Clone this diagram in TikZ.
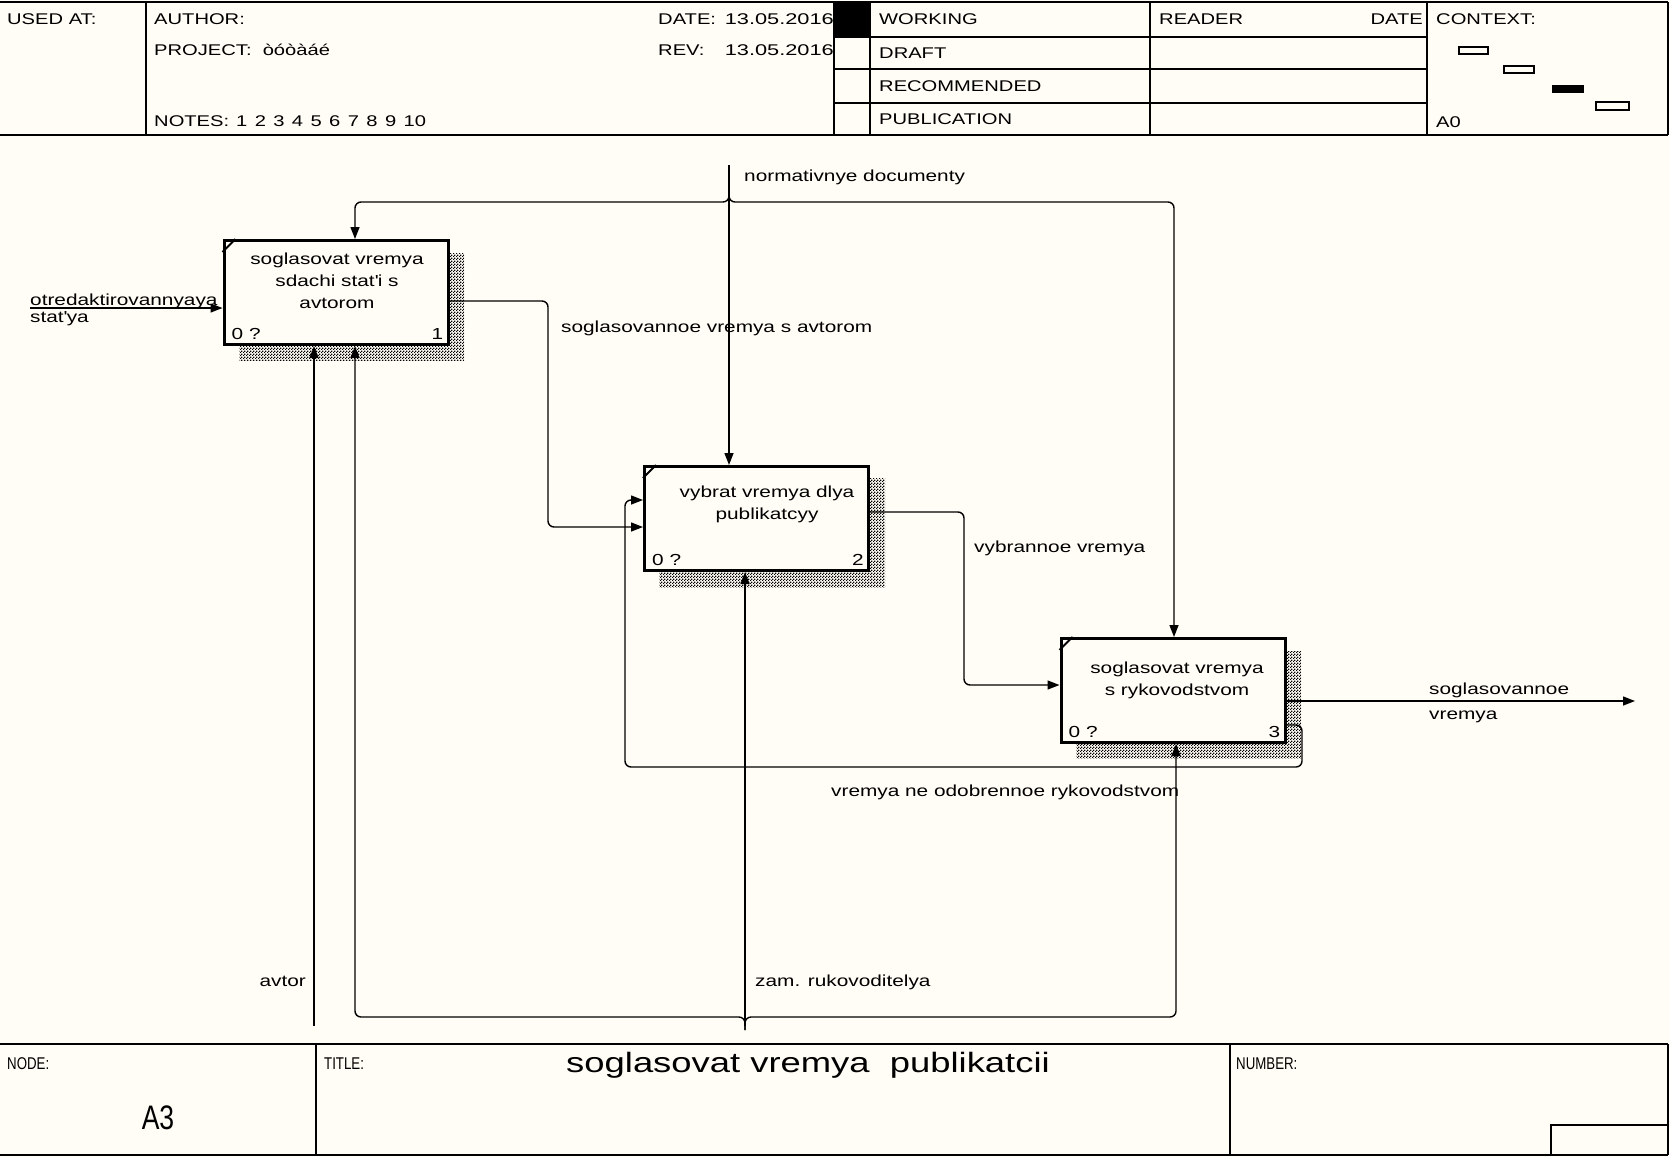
\documentclass[tikz,border=0pt]{standalone}
\usepackage{fontspec}
\setmainfont{Liberation Sans}[FakeStretch=1.3]
\newfontfamily\plainsans{Liberation Sans}
\newfontfamily\narrowsans{Liberation Sans}[FakeStretch=0.78]
\usetikzlibrary{arrows.meta,patterns,calc}
\definecolor{bg}{RGB}{255,253,245}
\pgfdeclarepatternformonly{checker}{\pgfqpoint{0pt}{0pt}}{\pgfqpoint{3pt}{3pt}}{\pgfqpoint{3pt}{3pt}}{%
 \pgfpathrectangle{\pgfqpoint{0pt}{0pt}}{\pgfqpoint{1.5pt}{1.5pt}}%
 \pgfpathrectangle{\pgfqpoint{1.5pt}{1.5pt}}{\pgfqpoint{1.5pt}{1.5pt}}%
 \pgfusepath{fill}}
\begin{document}
\begin{tikzpicture}[x=1pt,y=-1pt,
  outer/.style={line width=2.4pt},
  divider/.style={line width=1.5pt},
  hd/.style={font=\fontsize{15.5}{18}\selectfont, inner sep=0pt},
  lbl/.style={font=\fontsize{16}{22}\selectfont, inner sep=0pt},
  small/.style={font=\narrowsans\fontsize{17}{19}\selectfont, inner sep=0pt},
  actbox/.style={draw, line width=3pt, fill=bg, minimum width=224pt, minimum height=104pt, inner sep=0pt},
  shade/.style={pattern=checker, pattern color=black},
  conn/.style={line width=1.4pt, rounded corners=6pt},
  arr/.style={conn, -{Triangle[length=12pt,width=9pt]}},
]
\fill[bg] (0,0) rectangle (1670,1157);
\useasboundingbox (0,0) rectangle (1670,1157);

% ---------- header ----------
\draw[outer] (0,2) -- (1668,2);
\draw[outer] (0,135) -- (1668,135);
\draw[outer] (1668,2) -- (1668,135);
\foreach \x in {146,834,870,1150,1427} \draw[divider] (\x,2) -- (\x,135);
\foreach \y in {37,69,103} \draw[divider] (834,\y) -- (1427,\y);
\fill (834,2) rectangle (870,37);

\node[hd, anchor=base west] (usedat) at (7,24) {USED AT:};
\node[hd, anchor=base west] (author) at (154,24) {AUTHOR:};
\node[hd, anchor=base west] (project) at (154,55) {PROJECT:\ \ òóòàáé};
\node[hd, anchor=base west] (notes) at (154,126) {NOTES:};
\node[hd, anchor=base west] (notenums) at (236,126) {1\hspace{7.4pt}2\hspace{7.4pt}3\hspace{7.4pt}4\hspace{7.4pt}5\hspace{7.4pt}6\hspace{7.4pt}7\hspace{7.4pt}8\hspace{7.4pt}9\hspace{7.4pt}10};
\node[hd, anchor=base west] (date) at (658,24) {DATE:};
\node[hd, anchor=base east] (dateval) at (834,24) {\scalebox{1.08}[1]{13.05.2016}};
\node[hd, anchor=base west] (rev) at (658,55) {REV:};
\node[hd, anchor=base east] (revval) at (834,55) {\scalebox{1.08}[1]{13.05.2016}};
\node[hd, anchor=base west] (working) at (879,24) {WORKING};
\node[hd, anchor=base west] (draft) at (879,58) {DRAFT};
\node[hd, anchor=base west] (recom) at (879,91) {RECOMMENDED};
\node[hd, anchor=base west] (publ) at (879,124) {PUBLICATION};
\node[hd, anchor=base west] (reader) at (1159,24) {READER};
\node[hd, anchor=base east] (rdate) at (1423,24) {DATE};
\node[hd, anchor=base west] (context) at (1436,24) {CONTEXT:};
\node[hd, anchor=base west] (a0) at (1436,127) {A0};
\draw[line width=1.2pt] (1459,47) rectangle (1488,54);
\draw[line width=1.2pt] (1504,66) rectangle (1534,73);
\fill (1552,85) rectangle (1584,93);
\draw[line width=1.2pt] (1596,102) rectangle (1629,110);

% ---------- shadows ----------
\fill[shade] (239,253) rectangle (464,360);
\fill[shade] (659,478) rectangle (885,587);
\fill[shade] (1076,651) rectangle (1301,758);

% ---------- activity boxes ----------
\node[actbox] (b1) at (336,292.5) {};
\node[actbox] (b2) at (756.5,518.5) {};
\node[actbox] (b3) at (1173,690.5) {};
\foreach \b in {b1,b2,b3}
  \draw[line width=2pt] ($(\b.north west)+(0,13)$) -- ($(\b.north west)+(13,0)$);

\node[lbl, align=center] (t1) at (337,281) {soglasovat vremya\\sdachi stat\textquotesingle i s\\avtorom};
\node[lbl, align=center] (t2) at (767,504) {vybrat vremya dlya\\publikatcyy};
\node[lbl, align=center] (t3) at (1177,680) {soglasovat vremya\\s rykovodstvom};
\node[lbl, anchor=base west] (n1) at ($(b1.south west)+(9,-7)$) {0 ?};
\node[lbl, anchor=base east] (k1) at ($(b1.south east)+(-6,-7)$) {1};
\node[lbl, anchor=base west] (n2) at ($(b2.south west)+(9,-7)$) {0 ?};
\node[lbl, anchor=base east] (k2) at ($(b2.south east)+(-6,-7)$) {2};
\node[lbl, anchor=base west] (n3) at ($(b3.south west)+(9,-7)$) {0 ?};
\node[lbl, anchor=base east] (k3) at ($(b3.south east)+(-6,-7)$) {3};

% ---------- input ----------
\coordinate (in1) at (30,308);
\draw[arr] (in1) -- (in1 -| b1.west);
\node[lbl, anchor=base west] (l_in1) at (30,305) {otredaktirovannyaya};
\node[lbl, anchor=base west] (l_in2) at (30,322) {stat\textquotesingle ya};

% ---------- box1 -> box2 ----------
\draw[arr] (b1.east |- 0,301) -- (548,301) -- (548,527) -- (b2.west |- 0,527);
\node[lbl, anchor=base west] (l_12) at (561,332) {soglasovannoe vremya s avtorom};

% ---------- control ----------
\coordinate (ctl) at (729,165);
\draw[arr] (ctl) -- (ctl |- b2.north);
\draw[arr] (729,188) -- (729,202) -- (355,202) -- (b1.north -| 355,0);
\draw[arr] (729,188) -- (729,202) -- (1174,202) -- (b3.north -| 1174,0);
\node[lbl, anchor=base west] (l_ctl) at (744,181) {normativnye documenty};

% ---------- mechanisms ----------
\coordinate (mech1) at (314,1026);
\draw[arr] (mech1) -- (mech1 |- b1.south);
\node[lbl, anchor=base east] (l_m1) at (306,986) {avtor};
\coordinate (mech2) at (745,1026);
\draw[arr] (mech2) -- (mech2 |- b2.south);
\draw[arr] (745,1030) -- (745,1017) -- (355,1017) -- (b1.south -| 355,0);
\draw[arr] (745,1030) -- (745,1017) -- (1176,1017) -- (b3.south -| 1176,0);
\node[lbl, anchor=base west] (l_m2) at (755,986) {zam. rukovoditelya};

% ---------- box2 -> box3 ----------
\draw[arr] (b2.east |- 0,512) -- (964,512) -- (964,685) -- (b3.west |- 0,685);
\node[lbl, anchor=base west] (l_23) at (974,552) {vybrannoe vremya};

% ---------- output ----------
\coordinate (out1) at (1635,701);
\draw[arr] (b3.east |- out1) -- (out1);
\node[lbl, anchor=base west] (l_o1) at (1429,694) {soglasovannoe};
\node[lbl, anchor=base west] (l_o2) at (1429,719) {vremya};

% ---------- feedback ----------
\draw[arr] (b3.east |- 0,725) -- (1302,725) -- (1302,767) -- (625,767) -- (625,500) -- (b2.west |- 0,500);
\node[lbl, anchor=base west] (l_fb) at (831,796) {vremya ne odobrennoe rykovodstvom};

% ---------- footer ----------
\draw[outer] (0,1044) -- (1668,1044);
\draw[outer] (0,1155) -- (1668,1155);
\draw[outer] (1668,1044) -- (1668,1155);
\draw[divider] (316,1044) -- (316,1155);
\draw[divider] (1230,1044) -- (1230,1155);
\draw[divider] (1551,1155) -- (1551,1125) -- (1668,1125);
\node[small, anchor=base west] (nodelbl) at (7,1069) {NODE:};
\node[small, anchor=base west] (titlelbl) at (324,1069) {TITLE:};
\node[small, anchor=base west] (numlbl) at (1236,1069) {NUMBER:};
\node[font=\narrowsans\fontsize{34}{36}\selectfont, inner sep=0pt] (nodeid) at (158,1118) {A3};
\node[font=\fontsize{28}{32}\selectfont, inner sep=0pt] (title) at (808,1065) {soglasovat vremya\ \ publikatcii};
\end{tikzpicture}
\end{document}
